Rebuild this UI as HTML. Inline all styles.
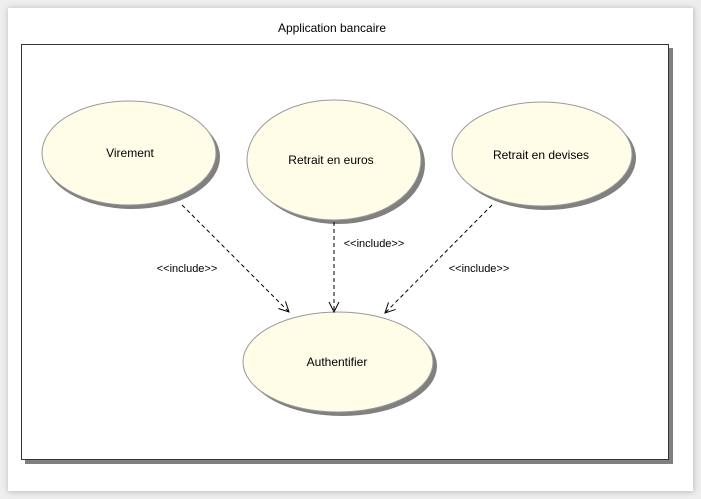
<!DOCTYPE html>
<html><head><style>
body{margin:0;background:#fff;}
svg{display:block;font-family:"Liberation Sans",Arial,sans-serif;}
</style></head><body>
<svg width="701" height="499" viewBox="0 0 701 499">
<defs>
<filter id="sh" x="-5%" y="-5%" width="110%" height="110%"><feGaussianBlur stdDeviation="3"/></filter>
<marker id="ar" markerWidth="12" markerHeight="12" refX="10" refY="6" orient="auto" markerUnits="userSpaceOnUse">
<path d="M0,1 L10,6 L0,11" fill="none" stroke="#000" stroke-width="1"/></marker>
</defs>
<rect x="0" y="0" width="701" height="499" fill="#eeeeee"/>
<rect x="8" y="8" width="686" height="484" fill="#bbb" filter="url(#sh)"/>
<rect x="8" y="8" width="685" height="483" fill="#fff"/>
<text x="332" y="32" font-size="12" text-anchor="middle" fill="#000">Application bancaire</text>
<rect x="25" y="48" width="648" height="416" fill="#808080"/>
<rect x="21.5" y="44.5" width="647" height="415" fill="#fff" stroke="#333" stroke-width="1"/>
<g fill="#808080">
<ellipse cx="132" cy="157" rx="88" ry="52"/>
<ellipse cx="338" cy="164" rx="87" ry="60"/>
<ellipse cx="546" cy="158" rx="90" ry="52"/>
<ellipse cx="342" cy="366" rx="95" ry="50"/>
</g>
<g fill="#fffde8" stroke="#999" stroke-width="1">
<ellipse cx="129" cy="153" rx="87" ry="52"/>
<ellipse cx="334" cy="160" rx="87" ry="60"/>
<ellipse cx="542" cy="154" rx="90" ry="52"/>
<ellipse cx="338" cy="362" rx="95" ry="50"/>
</g>
<g font-size="12" text-anchor="middle" fill="#000">
<text x="130" y="157">Virement</text>
<text x="331" y="164">Retrait en euros</text>
<text x="541" y="159">Retrait en devises</text>
<text x="337" y="366">Authentifier</text>
</g>
<g stroke="#000" stroke-width="1" stroke-dasharray="4,3" fill="none" marker-end="url(#ar)">
<line x1="182" y1="205" x2="289" y2="312"/>
<line x1="334" y1="222" x2="334" y2="312"/>
<line x1="492" y1="205" x2="385" y2="313"/>
</g>
<g font-size="11" text-anchor="middle" fill="#000">
<text x="187" y="272">&lt;&lt;include&gt;&gt;</text>
<text x="374" y="247">&lt;&lt;include&gt;&gt;</text>
<text x="479" y="272">&lt;&lt;include&gt;&gt;</text>
</g>
</svg>
</body></html>
